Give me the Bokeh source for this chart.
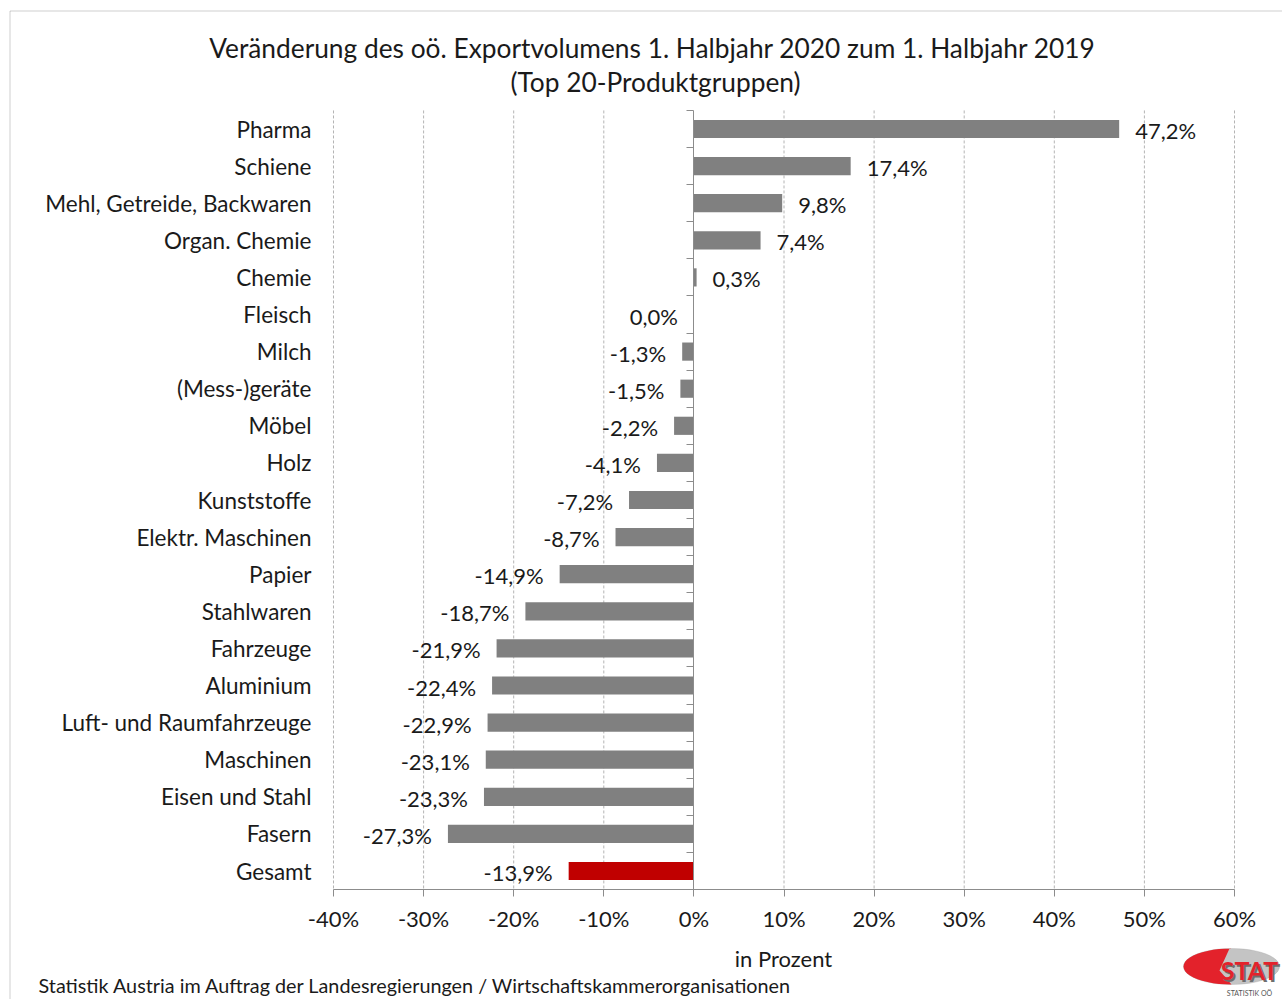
import math
from bokeh.plotting import figure
from bokeh.models import (Range1d, FixedTicker, LinearAxis, Label, ColumnDataSource,
                          PolyAnnotation, BoxAnnotation, CustomJSTickFormatter, Grid)
from bokeh.embed import file_html
from bokeh.resources import INLINE
from bokeh.core.properties import value

categories = ["Pharma", "Schiene", "Mehl, Getreide, Backwaren", "Organ. Chemie", "Chemie",
              "Fleisch", "Milch", "(Mess-)geräte", "Möbel", "Holz", "Kunststoffe",
              "Elektr. Maschinen", "Papier", "Stahlwaren", "Fahrzeuge", "Aluminium",
              "Luft- und Raumfahrzeuge", "Maschinen", "Eisen und Stahl", "Fasern", "Gesamt"]
values = [47.2, 17.4, 9.8, 7.4, 0.3, 0.0, -1.3, -1.5, -2.2, -4.1, -7.2, -8.7, -14.9, -18.7,
          -21.9, -22.4, -22.9, -23.1, -23.3, -27.3, -13.9]
x_ticks = [-40, -30, -20, -10, 0, 10, 20, 30, 40, 50, 60]

FONT = "Lato"
TXT = "#1a1a1a"
AX = "#8c8c8c"
W, H = 1282, 999

# pixel layout of the plotting area (page px)
PX_LEFT, PX_RIGHT = 333, 1234
PY_FIRST, ROW = 128.5, 37.1

n = len(categories)
pos = list(range(1, n + 1))
colors = ["#808080"] * (n - 1) + ["#c00000"]
labels = [f"{v:.1f}%".replace(".", ",") for v in values]

xmin, xmax = x_ticks[0], x_ticks[-1]
ppu = (PX_RIGHT - PX_LEFT) / (xmax - xmin)
x_start = xmin - PX_LEFT / ppu
x_end = xmin + (W - PX_LEFT) / ppu
y_top = 1 - PY_FIRST / ROW
y_bot = 1 + (H - PY_FIRST) / ROW

pos_src = ColumnDataSource(dict(y=[p for p, v in zip(pos, values) if v > 0],
                                x=[v for v in values if v > 0],
                                t=[l for l, v in zip(labels, values) if v > 0]))
neg_src = ColumnDataSource(dict(y=[p for p, v in zip(pos, values) if v <= 0],
                                x=[v for v in values if v <= 0],
                                t=[l for l, v in zip(labels, values) if v <= 0]))

p = figure(width=W, height=H, output_backend="svg", toolbar_location=None,
           x_range=Range1d(x_start, x_end), y_range=Range1d(y_bot, y_top),
           min_border=0, y_axis_location=None, x_axis_location=None,
           background_fill_color="white", border_fill_color="white",
           outline_line_color=None)
for r in p.center:
    if isinstance(r, Grid):
        r.visible = False

# dashed vertical gridlines
gx = [t for t in x_ticks if t != 0]
p.segment(x0=gx, y0=[0.5] * len(gx), x1=gx, y1=[n + 0.5] * len(gx),
          line_color="#b4b4b4", line_dash="3 2", line_width=1)

# bars
p.hbar(y=pos, left=0, right=values, height=0.49, fill_color=colors, line_color=None)

# category labels
cat_axis = LinearAxis(ticker=FixedTicker(ticks=pos), fixed_location=xmin,
                      bounds=(0.5, n + 0.5),
                      major_label_overrides={i: c for i, c in zip(pos, categories)},
                      axis_line_color=None, major_tick_line_color=None,
                      major_tick_out=0, major_tick_in=0,
                      minor_tick_line_color=None, major_label_standoff=22,
                      major_label_text_font=FONT, major_label_text_font_size="22.5px",
                      major_label_text_color=TXT)
p.add_layout(cat_axis, "left")

# zero line with boundary ticks
zero_axis = LinearAxis(ticker=FixedTicker(ticks=[i + 0.5 for i in range(0, n + 1)]),
                       fixed_location=0, bounds=(0.5, n + 0.5),
                       axis_line_color=AX, axis_line_width=1,
                       major_tick_line_color=AX, major_tick_out=7, major_tick_in=0,
                       minor_tick_line_color=None, major_label_text_alpha=0,
                       major_label_text_font_size="1px")
p.add_layout(zero_axis, "left")

# x axis
x_axis = LinearAxis(ticker=FixedTicker(ticks=x_ticks), fixed_location=n + 0.5,
                    bounds=(xmin, xmax),
                    formatter=CustomJSTickFormatter(code="return tick.toFixed(0) + '%';"),
                    axis_line_color=AX, major_tick_line_color=AX,
                    major_tick_out=7, major_tick_in=0, minor_tick_line_color=None,
                    major_label_standoff=8, major_label_text_font=FONT,
                    major_label_text_font_size="22px", major_label_text_color=TXT)
p.add_layout(x_axis, "below")

# value labels
p.text(x="x", y="y", text="t", source=pos_src, x_offset=16, y_offset=1.5,
       text_align="left", text_baseline="middle", text_font=value(FONT),
       text_font_size="22px", text_color=TXT)
p.text(x="x", y="y", text="t", source=neg_src, x_offset=-16, y_offset=1.5,
       text_align="right", text_baseline="middle", text_font=value(FONT),
       text_font_size="22px", text_color=TXT)


# texts placed in page pixels (screen units: x from left, y up from bottom)
def lab(txt, x, y, size, align="center", color=TXT, style="normal"):
    p.add_layout(Label(x=x, y=H - y, x_units="screen", y_units="screen", text=txt,
                       text_align=align, text_baseline="middle", text_font=FONT,
                       text_font_size=size, text_color=color, text_font_style=style))


lab("Veränderung des oö. Exportvolumens 1. Halbjahr 2020 zum 1. Halbjahr 2019", 652, 47, "26.3px")
lab("(Top 20-Produktgruppen)", 655, 81, "26.3px")
lab("in Prozent", 783, 958, "22px")
lab("Statistik Austria im Auftrag der Landesregierungen / Wirtschaftskammerorganisationen",
    38, 984, "19.8px", align="left")

# border
p.add_layout(BoxAnnotation(left=9.5, right=W + 5, top=H - 10.5, bottom=-5,
                           left_units="screen", right_units="screen",
                           top_units="screen", bottom_units="screen",
                           fill_alpha=0, line_color="#606060", line_width=1))

# logo
ex, ey, rx, ry = 1231, H - 966, 48, 18
ring = [(ex + rx * math.cos(a / 48 * 2 * math.pi), ey + ry * math.sin(a / 48 * 2 * math.pi))
        for a in range(48)]
p.add_layout(PolyAnnotation(xs=[q[0] for q in ring], ys=[q[1] for q in ring],
                            xs_units="screen", ys_units="screen", fill_color="#c4c4c4",
                            fill_alpha=1, line_color="#9a9a9a", line_width=1))
half = [(ex + rx * math.cos(a / 48 * 2 * math.pi), ey + ry * math.sin(a / 48 * 2 * math.pi))
        for a in range(12, 37)]
half = [(ex - 2, ey + ry)] + half + [(ex - 12, ey - 4)]
p.add_layout(PolyAnnotation(xs=[q[0] for q in half], ys=[q[1] for q in half],
                            xs_units="screen", ys_units="screen", fill_color="#e3222b",
                            fill_alpha=1, line_color=None))
lab("STAT", 1251, 971, "25px", color="#6e6e6e", style="bold")
lab("STAT", 1249, 969, "25px", color="#e3222b", style="bold")
lab("STATISTIK OÖ", 1249, 992, "7px", color="#555555")

open("out.html", "w").write(file_html(p, INLINE))
